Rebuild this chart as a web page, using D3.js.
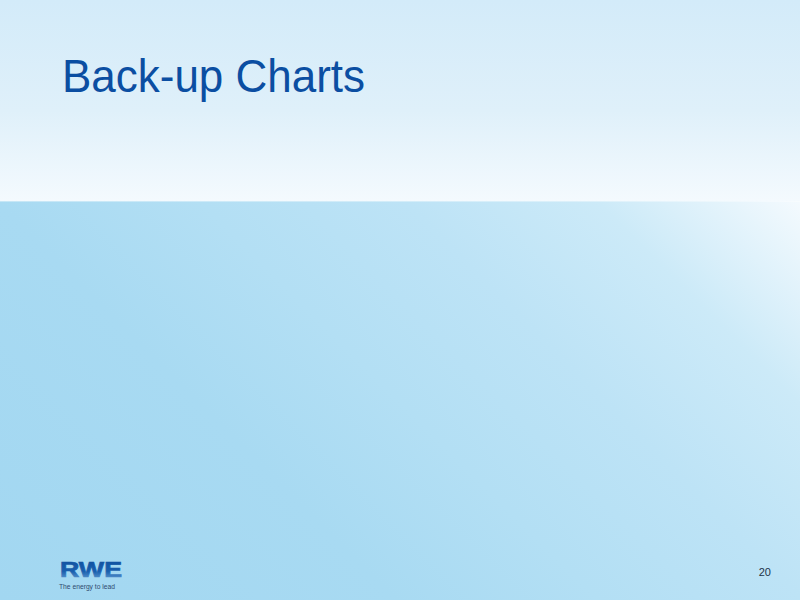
<!DOCTYPE html>
<html>
<head>
<meta charset="utf-8">
<script src="https://cdn.jsdelivr.net/npm/d3@7"></script>
<style>
  html, body { margin: 0; padding: 0; background: #fff; }
  svg { display: block; }
</style>
</head>
<body>
<div class="slide"></div>
<script>
var width = 800
  , height = 600
  , bandHeight = 201
  ;

// slide texts
var titleText = ["Back-up Charts"];
var logoText = ["RWE"];
var taglineText = ["The energy to lead"];
var pageNumber = [20];

var svg = d3.select(".slide").append("svg")
  .attr("width", width)
  .attr("height", height);

var defs = svg.append("defs");

var topGrad = defs.append("linearGradient")
  .attr("id", "topGrad")
  .attr("x1", 0).attr("y1", 0).attr("x2", 0).attr("y2", 1);
topGrad.append("stop").attr("offset", 0).attr("stop-color", "#d3ebf9");
topGrad.append("stop").attr("offset", 0.55).attr("stop-color", "#dff0fa");
topGrad.append("stop").attr("offset", 1).attr("stop-color", "#f4fafe");

// diagonal wash: darkest bottom-left, near white top-right
var lowGrad = defs.append("linearGradient")
  .attr("id", "lowGrad")
  .attr("gradientUnits", "userSpaceOnUse")
  .attr("x1", 0).attr("y1", 600).attr("x2", 600).attr("y2", 0);
lowGrad.append("stop").attr("offset", 0).attr("stop-color", "#a2d7f1");
lowGrad.append("stop").attr("offset", 0.33).attr("stop-color", "#a8daf2");
lowGrad.append("stop").attr("offset", 0.5).attr("stop-color", "#b3dff4");
lowGrad.append("stop").attr("offset", 0.67).attr("stop-color", "#bde3f6");
lowGrad.append("stop").attr("offset", 0.83).attr("stop-color", "#cceaf8");
lowGrad.append("stop").attr("offset", 1).attr("stop-color", "#f4fafe");

var logoGrad = defs.append("linearGradient")
  .attr("id", "logoGrad")
  .attr("x1", 0).attr("y1", 0).attr("x2", 0).attr("y2", 1);
logoGrad.append("stop").attr("offset", 0).attr("stop-color", "#0d4d9c");
logoGrad.append("stop").attr("offset", 0.6).attr("stop-color", "#1a5fae");
logoGrad.append("stop").attr("offset", 1).attr("stop-color", "#6ea7d8");

svg.append("rect")
  .attr("width", width)
  .attr("height", bandHeight)
  .attr("fill", "url(#topGrad)");

svg.append("rect")
  .attr("y", bandHeight)
  .attr("width", width)
  .attr("height", height - bandHeight)
  .attr("fill", "url(#lowGrad)");

// thin light edge between the bands
svg.append("line")
  .attr("x1", 0).attr("x2", width)
  .attr("y1", bandHeight + 0.5).attr("y2", bandHeight + 0.5)
  .attr("stroke", "#ffffff")
  .attr("stroke-opacity", 0.35)
  .attr("stroke-width", 1);

svg.selectAll("text.title")
  .data(titleText)
  .enter().append("text")
  .attr("class", "title")
  .attr("x", 62)
  .attr("y", 92)
  .attr("font-family", "Liberation Sans, Arial, sans-serif")
  .attr("font-size", 46)
  .attr("textLength", 303)
  .attr("lengthAdjust", "spacingAndGlyphs")
  .attr("fill", "#0b4ea2")
  .text(function(d) { return d; });

svg.selectAll("text.logo")
  .data(logoText)
  .enter().append("text")
  .attr("class", "logo")
  .attr("x", 60)
  .attr("y", 576.5)
  .attr("font-family", "Liberation Sans, Arial, sans-serif")
  .attr("font-weight", "bold")
  .attr("font-size", 22)
  .attr("textLength", 62)
  .attr("lengthAdjust", "spacingAndGlyphs")
  .attr("fill", "url(#logoGrad)")
  .attr("stroke", "url(#logoGrad)")
  .attr("stroke-width", 0.7)
  .text(function(d) { return d; });

svg.selectAll("text.tagline")
  .data(taglineText)
  .enter().append("text")
  .attr("class", "tagline")
  .attr("x", 59)
  .attr("y", 589)
  .attr("font-family", "Liberation Sans, Arial, sans-serif")
  .attr("font-size", 8)
  .attr("textLength", 56)
  .attr("lengthAdjust", "spacingAndGlyphs")
  .attr("fill", "#2f4a6e")
  .text(function(d) { return d; });

svg.selectAll("text.page")
  .data(pageNumber)
  .enter().append("text")
  .attr("class", "page")
  .attr("x", 771)
  .attr("y", 576)
  .attr("text-anchor", "end")
  .attr("font-family", "Liberation Sans, Arial, sans-serif")
  .attr("font-size", 11)
  .attr("fill", "#1d3348")
  .text(function(d) { return d; });
</script>
</body>
</html>
